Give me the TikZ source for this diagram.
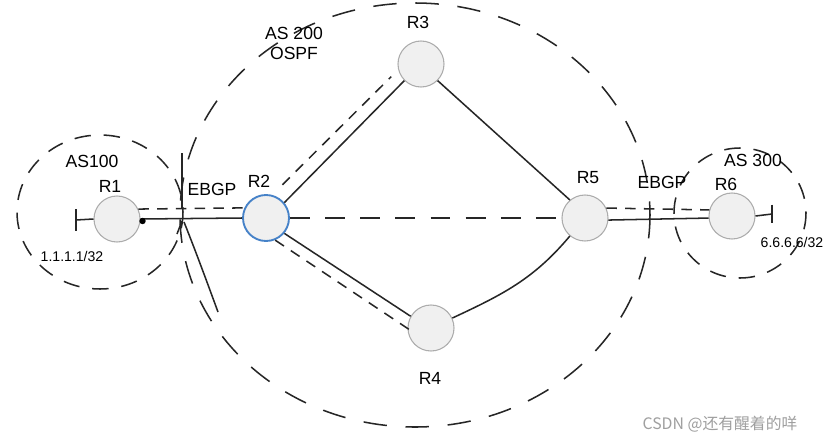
\documentclass[tikz,border=0pt]{standalone}
\usepackage{fontspec}
\setmainfont{Liberation Sans}
\newfontfamily\cjk{Noto Sans CJK SC}
\usetikzlibrary{calc}
\begin{document}
\begin{tikzpicture}[x=0.03cm,y=-0.03cm,
  router/.style={circle,draw=gray!65,fill=gray!12,line width=0.9pt,minimum size=1.38cm,inner sep=0pt},
  link/.style={line width=1.3pt,black!85},
  sess/.style={line width=1.3pt,black!85,dash pattern=on 9pt off 7pt},
  longsess/.style={line width=1.3pt,black!85,dash pattern=on 17pt off 13pt},
  asline/.style={line width=1.3pt,black!85,dash pattern=on 14pt off 11pt},
  bigas/.style={line width=1.3pt,black!85,dash pattern=on 20pt off 16pt},
  lbl/.style={font=\fontsize{15}{15}\selectfont},
  small/.style={font=\fontsize{12}{12}\selectfont}]
\path[fill=white,use as bounding box] (0,0) rectangle (830,443);

% AS boundaries
\draw[asline] (100,212) ellipse [x radius=83, y radius=77];
\draw[bigas] (415,215) ellipse [x radius=235, y radius=212];
\draw[asline] (740,213) ellipse [x radius=66, y radius=65];

% routers
\node[router] (R1) at (117,219) {};
\node[router,draw={rgb,255:red,70;green,130;blue,200},line width=1.6pt] (R2) at (266,218) {};
\node[router] (R3) at (421,64) {};
\node[router] (R4) at (431,328) {};
\node[router] (R5) at (585,218) {};
\node[router] (R6) at (732,216) {};

% labels
\node[lbl] (lR1) at (110,186) {R1};
\node[lbl] (lR2) at (259,181) {R2};
\node[lbl] (lR3) at (418,22) {R3};
\node[lbl] (lR4) at (430,378) {R4};
\node[lbl] (lR5) at (588,178) {R5};
\node[lbl] (lR6) at (726,184) {R6};
\node[lbl] (as1) at (92,161) {AS100};
\node[lbl,align=center] (as2) at (294,43) {AS 200\\[2pt]OSPF};
\node[lbl] (as3) at (753,160) {AS 300};
\node[lbl] (eb1) at (212,189) {EBGP};
\node[lbl] (eb2) at (662,182) {EBGP};
\node[small] (ip1) at (72,256) {1.1.1.1/32};
\node[small] (ip6) at (792,242) {6.6.6.6/32};

% stubs
\coordinate (s1) at (76,220);
\coordinate (s6) at (772,214);
\draw[link] (R1.west) -- (s1);
\draw[link] ([yshift=9]s1) -- ([yshift=-9]s1);
\draw[link] (R6.east) -- (s6);
\draw[link] ([yshift=8]s6) -- ([yshift=-8]s6);

% physical links
\draw[link] (R1.east) -- (R2.west);
\fill (R1.east) ++(2,2) circle [radius=3.2];
\draw[link] (R2.40) -- (R3.225);
\draw[link] (R3.-45) -- (R5.130);
\draw[link] (R2.-40) -- (R4.150);
\draw[link] (R4.25) to[out=25,in=230] (R5.230);
\draw[link] (R5.-5) -- (R6.185);

% sessions (dashed)
\draw[sess] (R1.25) -- (R2.155);
\draw[sess,shorten <=1.05cm,shorten >=0.9cm] ($(R2)!0.36cm!90:(R3)$) -- ($(R3)!0.36cm!-90:(R2)$);
\draw[sess,shorten <=0.6cm,shorten >=0.5cm] ($(R2)!0.4cm!-90:(R4)$) -- ($(R4)!0.4cm!90:(R2)$);
\draw[longsess] (R2.east) -- (R5.west);
\draw[sess] (R5.25) -- (R6.165);

% EBGP hand marks (left)
\draw[link] (182,153) -- (182,208);
\draw[link] (182,221) -- (177,234);
\draw[link] (184,222) .. controls (196,252) and (207,282) .. (218,312);

% watermark
\node[font=\cjk\fontsize{13.5}{13.5}\selectfont,text=gray!75] (wm) at (720,424) {CSDN @还有醒着的咩};
\end{tikzpicture}
\end{document}
